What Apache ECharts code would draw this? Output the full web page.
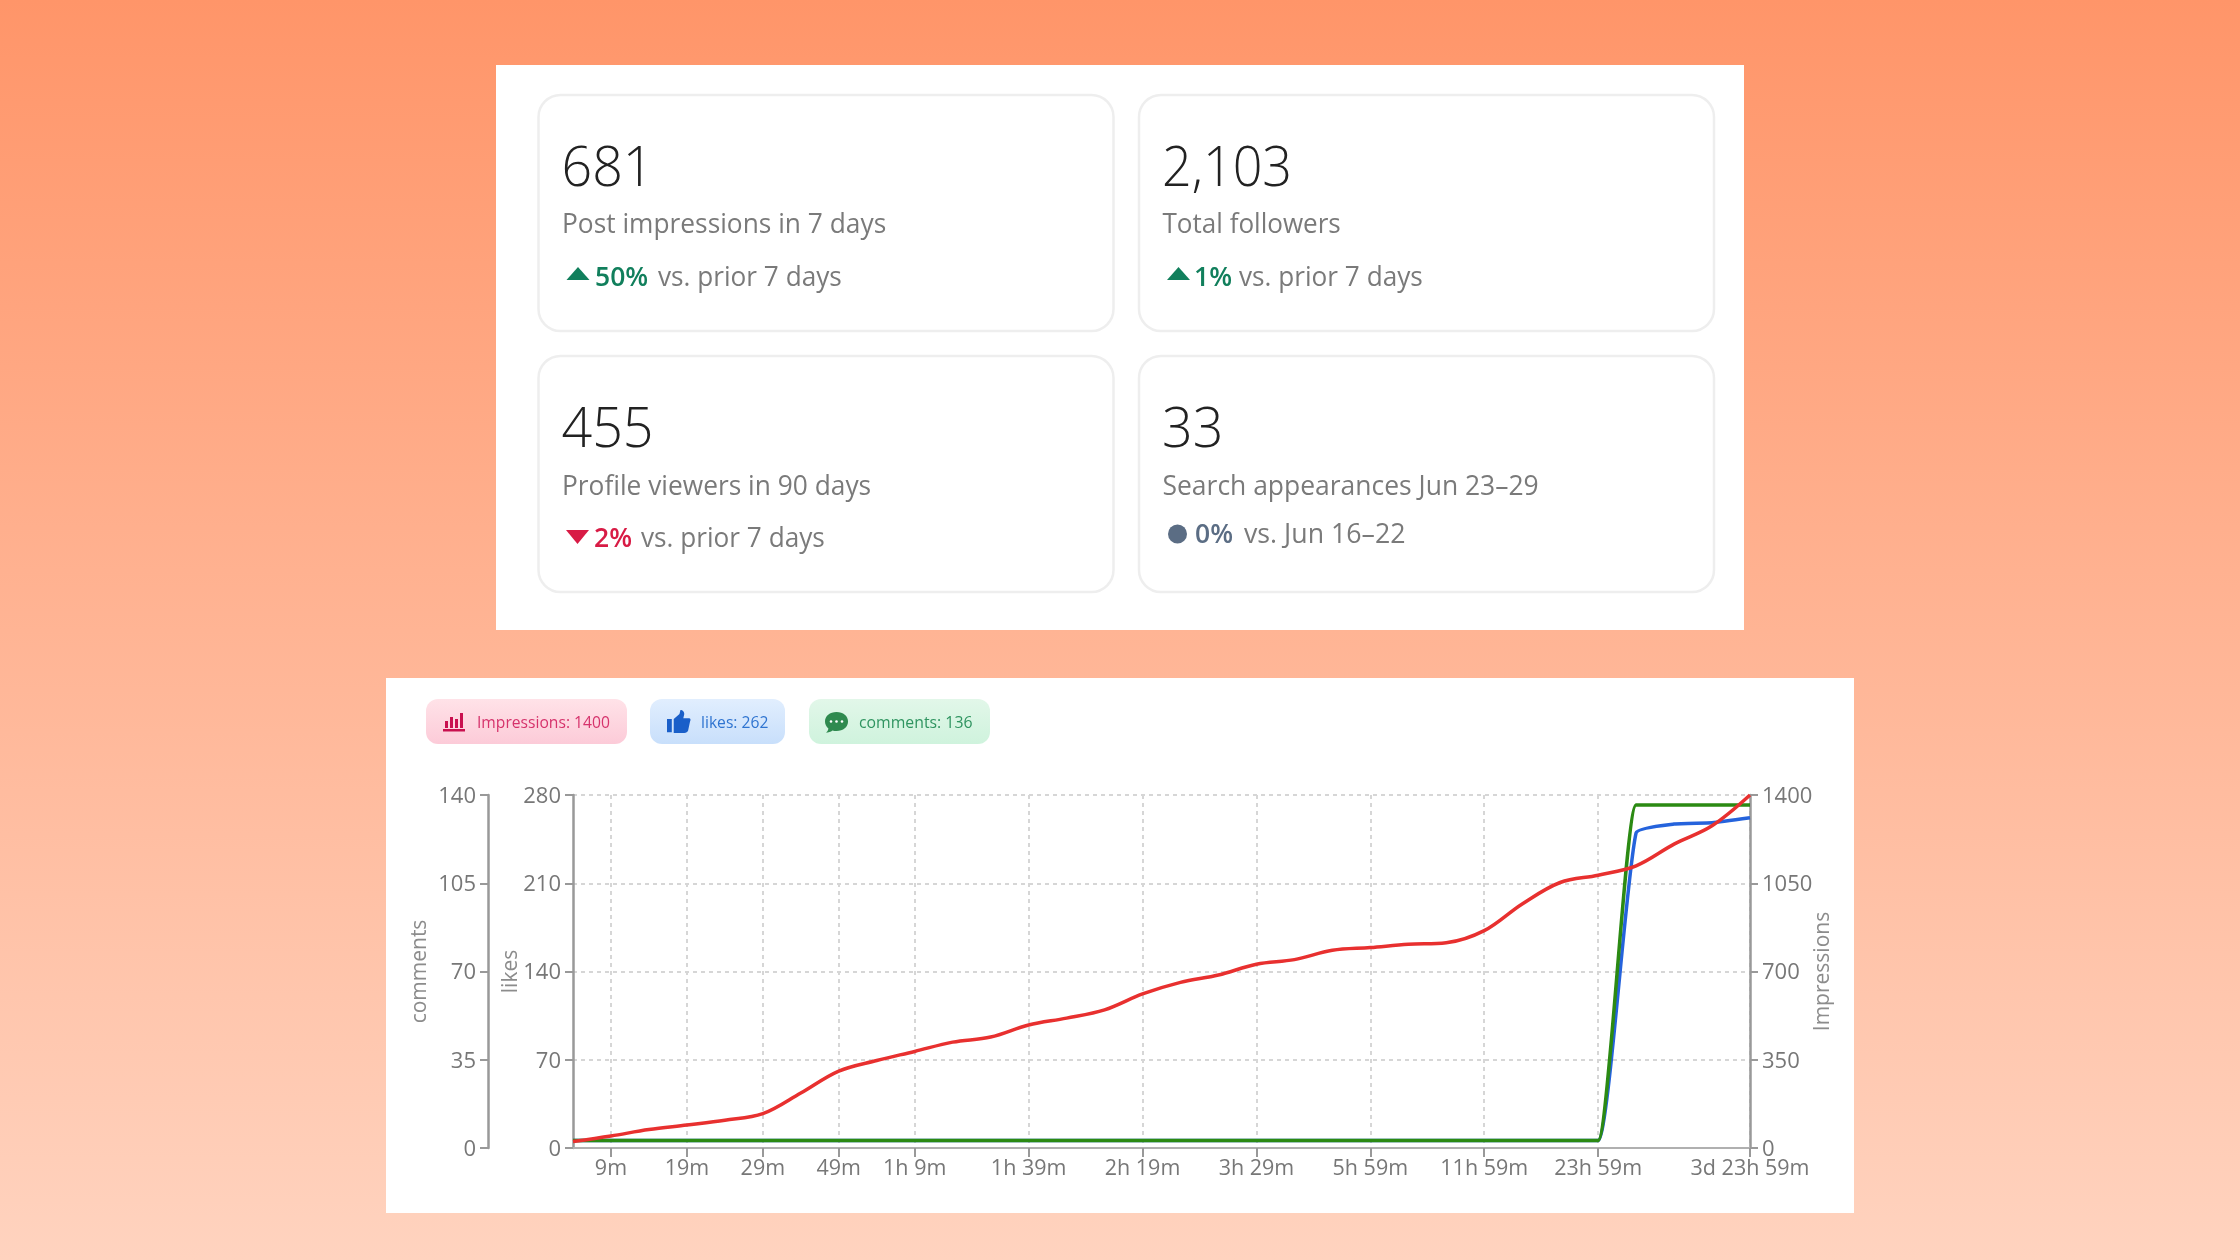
<!DOCTYPE html>
<html>
<head>
<meta charset="utf-8">
<title>Post analytics</title>
<script src="https://cdn.jsdelivr.net/npm/echarts@6/dist/echarts.min.js"></script>
<style>
  html, body { margin: 0; padding: 0; width: 2240px; height: 1260px; overflow: hidden; }
  #chart { width: 2240px; height: 1260px; }
</style>
</head>
<body>
<div id="chart"></div>
<script>
// Elapsed-time buckets after publishing
const categories = ['4m','9m','14m','19m','24m','29m','39m','49m','59m','1h 9m','1h 19m','1h 29m','1h 39m','1h 49m','1h 59m','2h 19m','2h 39m','2h 59m','3h 29m','3h 59m','4h 59m','5h 59m','7h 59m','9h 59m','11h 59m','15h 59m','19h 59m','23h 59m','1d 23h 59m','2d 11h 59m','2d 23h 59m','3d 23h 59m'];
const tickLabels = ['9m','19m','29m','49m','1h 9m','1h 39m','2h 19m','3h 29m','5h 59m','11h 59m','23h 59m','3d 23h 59m'];

const impressions = [26,48,73,91,110,136,218,305,347,383,420,440,488,515,548,611,657,686,729,747,784,795,808,814,862,968,1053,1082,1119,1205,1278,1400];
const likes = [6,6,6,6,6,6,6,6,6,6,6,6,6,6,6,6,6,6,6,6,6,6,6,6,6,6,6,6,250,257,258,262];
const comments = [3,3,3,3,3,3,3,3,3,3,3,3,3,3,3,3,3,3,3,3,3,3,3,3,3,3,3,3,136,136,136,136];

// Headline cards
const cardValues = ['681','2,103','455','33'];
const cardTitles = ['Post impressions in 7 days','Total followers','Profile viewers in 90 days','Search appearances Jun 23–29'];
const cardChanges = ['50%','1%','2%','0%'];
const cardCompare = ['vs. prior 7 days','vs. prior 7 days','vs. prior 7 days','vs. Jun 16–22'];

const FONT = '"Open Sans", "Noto Sans", sans-serif';
const GREEN = '#117f5c', RED = '#d81b45', SLATE = '#5b6d84';

// Icon outlines used by the legend badges
echarts.graphic.registerShape('thumbIcon', echarts.graphic.extendPath('M0 11 H5 V27 H0 Z M7 11 L13 5 L14 0 C17 0 18 3 18 5 L17 10 H23 C24.5 10 25 12 24 14 L22 25 C21.5 27 20 28 18 28 H7 Z', {}));
echarts.graphic.registerShape('bubbleIcon', echarts.graphic.extendPath('M12 0 C19 0 24 4 24 9.5 C24 15 19 19 12 19 C10.5 19 9 18.8 7.8 18.4 C6 19.8 3.5 20.6 1 20.6 C2.6 19.4 3.4 17.9 3.5 16.4 C1.3 14.7 0 12.2 0 9.5 C0 4 5 0 12 0 Z', {}));

function label(x, y, text, size, fill, opts) {
  const o = opts || {};
  return {
    type: 'text', x, y, z: 20, scaleX: o.sx || 1,
    style: { text, fontFamily: FONT, fontSize: size, fontWeight: o.weight || 400, fill, align: 'left', verticalAlign: 'middle' }
  };
}
function box(x, y, w, h, r, fill, stroke) {
  return { type: 'rect', z: -5, shape: { x, y, width: w, height: h, r }, style: { fill, stroke: stroke || null, lineWidth: stroke ? 2.5 : 0 } };
}
function vgrad(a, b) {
  return { type: 'linear', x: 0, y: 0, x2: 0, y2: 1, colorStops: [{ offset: 0, color: a }, { offset: 1, color: b }] };
}

const graphics = [
  box(496, 65, 1248, 565, 0, '#ffffff'),
  box(386, 678, 1468, 535, 0, '#ffffff')
];

// Card layout: one entry per card, in reading order
const cardBoxes = [[538.5, 95], [1139, 95], [538.5, 356], [1139, 356]];
const changeColor = [GREEN, GREEN, RED, SLATE];
const changeX = [595, 1194, 594, 1195];
const compareX = [658, 1239, 641, 1244];
const rowY2 = [225.5, 225.5, 487.5, 487.5];
const rowY3 = [278, 278, 539.5, 535];
const valueFit = [0.96, 0.93, 0.96, 0.96];
const titleFit = [0.975, 0.965, 0.975, 0.98];
const compareFit = [0.97, 0.97, 0.97, 0.99];

cardBoxes.forEach(function (b, i) {
  const tx = b[0] + 23.5;
  graphics.push(box(b[0], b[1], 575, 236, 22, '#ffffff', '#eeeeee'));
  graphics.push(label(tx - 0.5, b[1] + 75.5, cardValues[i], 56, '#222222', { weight: 350, sx: valueFit[i] }));
  graphics.push(label(tx, rowY2[i], cardTitles[i], 27, '#7a7a7a', { sx: titleFit[i] }));
  graphics.push(label(changeX[i], rowY3[i], cardChanges[i], 27, changeColor[i], { weight: 600, sx: 0.98 }));
  graphics.push(label(compareX[i], rowY3[i], cardCompare[i], 27, '#7a7a7a', { sx: compareFit[i] }));
});

// Change indicators
function triangle(pts, fill) {
  return { type: 'polygon', z: 20, shape: { points: pts }, style: { fill } };
}
graphics.push(triangle([[566.5, 280], [589.5, 280], [578, 267]], GREEN));
graphics.push(triangle([[1167, 280], [1190, 280], [1178.5, 267]], GREEN));
graphics.push(triangle([[566, 530], [589, 530], [577.5, 544]], RED));
graphics.push({ type: 'circle', z: 20, shape: { cx: 1177.5, cy: 534, r: 9.5 }, style: { fill: SLATE } });

// Legend badges, text taken from each series' latest value
const last = function (a) { return a[a.length - 1]; };
graphics.push({ type: 'rect', z: -4, shape: { x: 426, y: 699, width: 201, height: 45, r: 12 }, style: { fill: vgrad('#ffe2e8', '#fccbd8') } });
graphics.push({ type: 'rect', z: -4, shape: { x: 650, y: 699, width: 135, height: 45, r: 12 }, style: { fill: vgrad('#e1eefe', '#c8dffb') } });
graphics.push({ type: 'rect', z: -4, shape: { x: 809, y: 699, width: 181, height: 45, r: 12 }, style: { fill: vgrad('#e2f7e9', '#cff3dd') } });
graphics.push(label(477, 723, 'Impressions: ' + last(impressions), 17, '#d6336c', { sx: 0.92 }));
graphics.push(label(701, 723, 'likes: ' + last(likes), 17, '#2f74d0', { sx: 0.92 }));
graphics.push(label(859, 723, 'comments: ' + last(comments), 17, '#2f9460', { sx: 0.93 }));

// Bar-chart icon
[[445, 721, 3, 7], [450, 717, 3, 11], [455, 719, 3, 9], [460, 713, 3, 15]].forEach(function (r) {
  graphics.push({ type: 'rect', z: 20, shape: { x: r[0], y: r[1], width: r[2], height: r[3] }, style: { fill: '#c9104f' } });
});
graphics.push({ type: 'rect', z: 20, shape: { x: 443, y: 729, width: 22, height: 2.5 }, style: { fill: '#c9104f' } });
// Thumbs-up and speech-bubble icons
graphics.push({ type: 'thumbIcon', z: 20, x: 667, y: 710, scaleX: 0.96, scaleY: 0.82, style: { fill: '#1a5fc9' } });
graphics.push({ type: 'bubbleIcon', z: 20, x: 825, y: 712, scaleX: 0.96, scaleY: 1, style: { fill: '#2f8a4f' } });
[831, 836.5, 842].forEach(function (cx) {
  graphics.push({ type: 'circle', z: 21, shape: { cx, cy: 721.5, r: 1.3 }, style: { fill: '#ffffff' } });
});

const AXIS = '#999999', TEXT = '#777777', NAME = '#8c8c8c';
function valueAxis(name, max, step, position, offset, gap, split) {
  return {
    type: 'value', name, min: 0, max, interval: step, position, offset,
    nameLocation: 'middle', nameGap: gap, nameRotate: 90, nameMoveOverlap: false,
    nameTextStyle: { color: NAME, fontFamily: FONT, fontSize: 21 },
    axisLine: { show: true, lineStyle: { color: AXIS, width: 2.5 } },
    axisTick: { show: true, length: 8, lineStyle: { color: AXIS, width: 2 } },
    axisLabel: {
      color: TEXT, fontFamily: FONT, fontSize: 22, margin: 12,
      formatter: function (v) { return '{n|' + v + '}'; },
      rich: { n: { color: TEXT, fontFamily: FONT, fontSize: 22, padding: [3, 0, 0, 0] } }
    },
    splitLine: { show: split, lineStyle: { color: '#d6d6d6', type: [4, 4], width: 2 } }
  };
}
const showTick = function (index, value) { return tickLabels.indexOf(value) !== -1; };

function lineSeries(name, data, axisIndex, color, curve) {
  return { name, type: 'line', data, yAxisIndex: axisIndex, smooth: curve, showSymbol: false, symbol: 'none', lineStyle: { color, width: 3.5 }, itemStyle: { color }, animation: false };
}

const chart = echarts.init(document.getElementById('chart'));
chart.setOption({
  animation: false,
  backgroundColor: vgrad('#ff9569', '#ffd3bf'),
  grid: { left: 573, right: 490, top: 795, height: 353, containLabel: false },
  xAxis: {
    type: 'category', data: categories, boundaryGap: false,
    axisLine: { lineStyle: { color: '#b0b0b0', width: 2 } },
    axisTick: { interval: showTick, length: 9, lineStyle: { color: AXIS, width: 2 } },
    axisLabel: { interval: showTick, color: TEXT, fontFamily: FONT, fontSize: 21.5, margin: 10, hideOverlap: false },
    splitLine: { show: true, interval: showTick, lineStyle: { color: '#d6d6d6', type: [4, 4], width: 2 } }
  },
  yAxis: [
    valueAxis('Impressions', 1400, 350, 'right', 0, 63, true),
    valueAxis('likes', 280, 70, 'left', 0, 51, false),
    valueAxis('comments', 140, 35, 'left', 85, 57, false)
  ],
  series: [
    lineSeries('likes', likes, 1, '#2563dc', 0.15),
    lineSeries('comments', comments, 2, '#2b8a13', 0.15),
    lineSeries('Impressions', impressions, 0, '#e8302f', 0.35)
  ],
  graphic: { elements: graphics }
});
</script>
</body>
</html>
